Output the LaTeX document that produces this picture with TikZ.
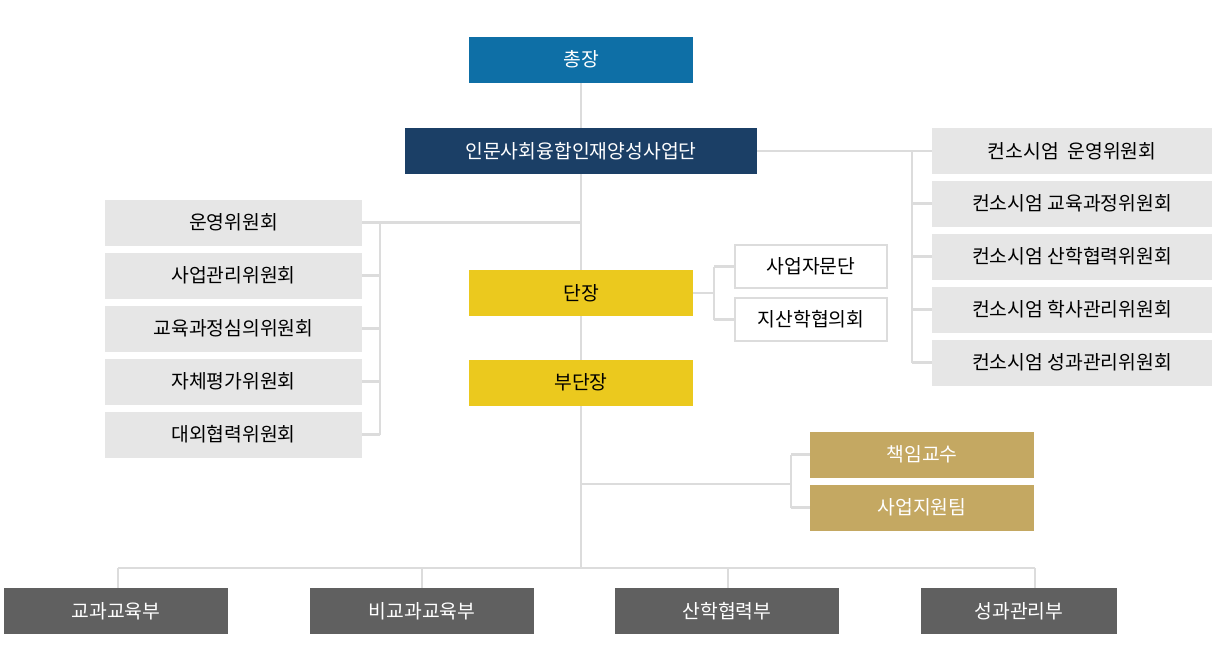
\documentclass[tikz,border=0pt]{standalone}
\usepackage{fontspec}
\setmainfont{Noto Sans CJK KR}
\usetikzlibrary{backgrounds}
\definecolor{cblue}{HTML}{0E6FA6}
\definecolor{cnavy}{HTML}{1B3F66}
\definecolor{cgray}{HTML}{E6E6E6}
\definecolor{cyel}{HTML}{EBC91E}
\definecolor{ctan}{HTML}{C4A862}
\definecolor{cdark}{HTML}{606060}
\definecolor{cline}{HTML}{DCDCDC}
\begin{document}
\begin{tikzpicture}[x=0.75pt,y=-0.75pt,
  box/.style={minimum height=34.5pt,inner sep=0pt,font=\fontsize{14.5}{16}\selectfont},
  w/.style={box,text=white},
  ln/.style={draw=cline,line width=2.2pt}]
\useasboundingbox (0,0) rectangle (1216,671);
\node[w,fill=cblue,minimum width=168pt] (cz) at (581,59.5) {총장};
\node[w,fill=cnavy,minimum width=264pt] (sd) at (581,151) {인문사회융합인재양성사업단};
\node[box,fill=cyel,minimum width=168pt] (dj) at (581,293) {단장};
\node[box,fill=cyel,minimum width=168pt] (bdj) at (581,382.5) {부단장};
\foreach \t/\y [count=\i] in {컨소시엄~~운영위원회/151,컨소시엄 교육과정위원회/203.5,컨소시엄 산학협력위원회/256.5,컨소시엄 학사관리위원회/309.5,컨소시엄 성과관리위원회/362.5}
  \node[box,fill=cgray,minimum width=210pt] (r\i) at (1072,\y) {\t};
\foreach \t/\y [count=\i] in {운영위원회/222.5,사업관리위원회/275.5,교육과정심의위원회/328.5,자체평가위원회/381.5,대외협력위원회/434.5}
  \node[box,fill=cgray,minimum width=193pt] (l\i) at (233.5,\y) {\t};
\node[box,draw=cline,line width=1.5pt,fill=white,minimum width=114pt,minimum height=32pt] (a1) at (811,266.5) {사업자문단};
\node[box,draw=cline,line width=1.5pt,fill=white,minimum width=114pt,minimum height=32pt] (a2) at (811,319.5) {지산학협의회};
\node[w,fill=ctan,minimum width=168pt] (t1) at (922,454.5) {책임교수};
\node[w,fill=ctan,minimum width=168pt] (t2) at (922,507.5) {사업지원팀};
\node[w,fill=cdark,minimum width=168pt] (b1) at (116,611) {교과교육부};
\node[w,fill=cdark,minimum width=168pt] (b2) at (422,611) {비교과교육부};
\node[w,fill=cdark,minimum width=168pt] (b3) at (727,611) {산학협력부};
\node[w,fill=cdark,minimum width=147pt] (b4) at (1019,611) {성과관리부};
\begin{scope}[on background layer]
\coordinate (h) at (581,568);
\draw[ln] (cz.south) -- (h);
\draw[ln] (118,568) -- (1035,568);
\foreach \x in {118,422,728,1035} \draw[ln] (\x,568) -- (\x,588);
\draw[ln] (sd.east) -- (912,151) -- (912,362.5);
\foreach \i in {1,...,5} \draw[ln] (912,0 |- r\i.west) -- (r\i.west);
\draw[ln] (581,222.5) -- (380,222.5) -- (380,434.5);
\foreach \i in {1,...,5} \draw[ln] (380,0 |- l\i.east) -- (l\i.east);
\draw[ln] (dj.east) -- (714,293);
\draw[ln] (714,266.5) -- (714,319.5);
\foreach \i in {1,2} \draw[ln] (714,0 |- a\i.west) -- (a\i.west);
\draw[ln] (581,484) -- (791,484);
\draw[ln] (791,454.5) -- (791,507.5);
\foreach \i in {1,2} \draw[ln] (791,0 |- t\i.west) -- (t\i.west);
\end{scope}
\end{tikzpicture}
\end{document}
